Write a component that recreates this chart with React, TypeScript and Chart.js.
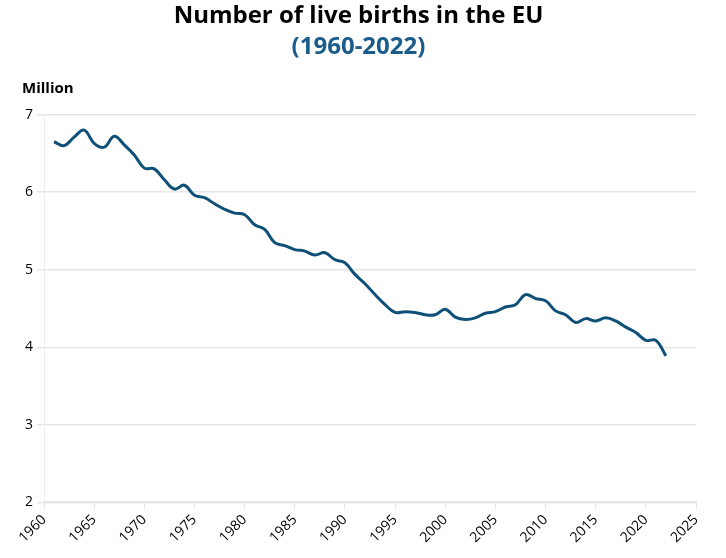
import React, { useEffect, useRef } from "react";
import { Chart, registerables } from "chart.js";

Chart.register(...registerables);

const years: number[] = [
  1961, 1962, 1963, 1964, 1965, 1966, 1967, 1968, 1969, 1970,
  1971, 1972, 1973, 1974, 1975, 1976, 1977, 1978, 1979, 1980,
  1981, 1982, 1983, 1984, 1985, 1986, 1987, 1988, 1989, 1990,
  1991, 1992, 1993, 1994, 1995, 1996, 1997, 1998, 1999, 2000,
  2001, 2002, 2003, 2004, 2005, 2006, 2007, 2008, 2009, 2010,
  2011, 2012, 2013, 2014, 2015, 2016, 2017, 2018, 2019, 2020,
  2021, 2022,
];

const births: number[] = [
  6.65, 6.60, 6.71, 6.80, 6.63, 6.58, 6.72, 6.61, 6.48, 6.31,
  6.30, 6.16, 6.04, 6.09, 5.96, 5.93, 5.85, 5.78, 5.73, 5.71,
  5.58, 5.52, 5.35, 5.31, 5.26, 5.24, 5.19, 5.22, 5.13, 5.09,
  4.94, 4.82, 4.68, 4.55, 4.45, 4.46, 4.45, 4.42, 4.42, 4.49,
  4.39, 4.36, 4.38, 4.44, 4.46, 4.52, 4.55, 4.68, 4.63, 4.60,
  4.47, 4.42, 4.32, 4.37, 4.34, 4.38, 4.34, 4.26, 4.19, 4.09,
  4.09, 3.89,
];

const titleText = "Number of live births in the EU";
const subtitleText = "(1960-2022)";
const unitText = "Million";

const unitPlugin = {
  id: "unitLabel",
  afterDraw(chart: any) {
    const ctx = chart.ctx;
    ctx.save();
    ctx.font = "bold 15px 'Open Sans'";
    ctx.fillStyle = "#000";
    ctx.textAlign = "left";
    ctx.textBaseline = "middle";
    ctx.fillText(unitText, 22, 89);
    ctx.restore();
  },
};

export default function App() {
  const ref = useRef<HTMLCanvasElement | null>(null);
  useEffect(() => {
    if (!ref.current) return;
    const chart = new Chart(ref.current, {
      type: "line",
      data: {
        datasets: [
          {
            data: years.map((y, i) => ({ x: y, y: births[i] })),
            borderColor: "#0e5078",
            borderWidth: 3,
            pointRadius: 0,
            tension: 0.4,
            fill: false,
          },
        ],
      },
      options: {
        animation: false,
        responsive: false,
        maintainAspectRatio: false,
        layout: { padding: { top: 0, right: 30, left: 21, bottom: 10 } },
        plugins: {
          legend: { display: false },
          tooltip: { enabled: false },
          title: {
            display: true,
            text: titleText,
            color: "#000",
            font: { family: "'Open Sans'", size: 24, weight: "bold" },
            padding: { top: 2, bottom: 2 },
          },
          subtitle: {
            display: true,
            text: subtitleText,
            color: "#1a5c8b",
            font: { family: "'Open Sans'", size: 24, weight: "bold" },
            padding: { top: 0, bottom: 53 },
          },
        },
        scales: {
          x: {
            type: "linear",
            min: 1960,
            max: 2025,
            ticks: {
              stepSize: 5,
              minRotation: 45,
              maxRotation: 45,
              color: "#000",
              font: { family: "'Open Sans'", size: 14 },
              padding: 2,
              callback: (v: any) => String(v),
            },
            grid: {
              drawOnChartArea: false,
              drawTicks: true,
              tickLength: 7,
              color: "#e6e6e6",
            },
            border: { color: "#e6e6e6", width: 2 },
          },
          y: {
            min: 2,
            max: 7,
            ticks: {
              stepSize: 1,
              color: "#000",
              font: { family: "'Open Sans'", size: 14 },
              padding: 4,
            },
            grid: { color: "#e6e6e6", lineWidth: 1.5, tickLength: 7 },
            border: { color: "#ececec", width: 1 },
          },
        },
      },
      plugins: [unitPlugin],
    });
    return () => chart.destroy();
  }, []);
  return (
    <div style={{ position: "fixed", left: 0, top: 0, width: 726, height: 558, background: "#fff" }}>
      <canvas ref={ref} width={726} height={558} style={{ width: 726, height: 558 }} />
    </div>
  );
}
